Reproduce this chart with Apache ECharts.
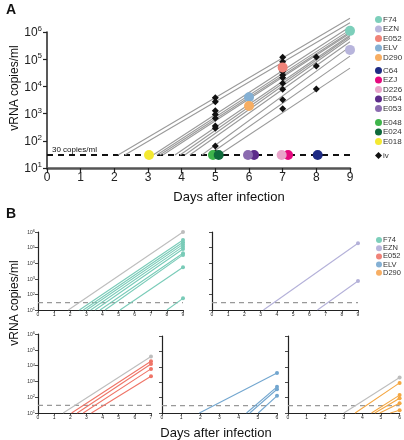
<!DOCTYPE html>
<html><head><meta charset="utf-8">
<script src="https://cdn.jsdelivr.net/npm/echarts@6/dist/echarts.min.js"></script>
<style>html,body{margin:0;padding:0;background:#fff;}#c{width:404px;height:440px;}</style>
</head><body><div id="c"></div>
<script>
// ---------- Panel A data ----------
const daysA = [0,1,2,3,4,5,6,7,8,9];
const threshold = 30;
const aLineStart = [2.11, 2.31, 3.15, 3.26, 3.35, 3.44, 3.80, 3.95, 4.09, 4.24, 4.6, 4.8, 5.1];
const aLineEnd   = [3.2e6, 2.2e6, 1.55e6, 1.2e6, 1.0e6, 9e5, 7.6e5, 6.8e5, 5.9e5, 4.4e5, 2.9e5, 1.3e5, 4.7e4];
const ivDay5 = [3.8e3, 2.75e3, 1.26e3, 9.3e2, 6.8e2, 3.5e2, 2.9e2, 65, 36];
const ivDay7 = [1.17e5, 8.1e4, 5.6e4, 3.5e4, 2.6e4, 2.1e4, 1.3e4, 7.8e3, 3.2e3, 1.5e3];
const ivDay8 = [1.2e5, 5.6e4, 8e3];
const animalNames = ['F74','EZN','E052','ELV','D290','C64','EZJ','D226','E054','E053','E048','E024','E018'];
const animalColors = ['#7dcfbb','#b8b5dc','#f08379','#84b0d4','#f7ae63','#1e2b84','#e6097f','#e9a4ca','#5c2b8a','#8b6bb0','#3fb54b','#0e6a3b','#f4e932'];
const animalDay   = [9, 9, 7, 6, 6, 8.04, 7.16, 6.97, 6.15, 5.97, 4.93, 5.1, 3.03];
const animalValue = [1.1e6, 2.2e5, 5e4, 4e3, 1.9e3, 30, 30, 30, 30, 30, 30, 30, 30];

// ---------- Panel B data ----------
const b1Gray = [1.88, 1e6];
const b1Start = [2.57, 2.81, 3.02, 3.27, 3.54, 3.85, 4.16, 5.09, 8.0];
const b1End   = [3.1e5, 2.2e5, 1.6e5, 1.15e5, 8.1e4, 4.3e4, 3.4e4, 5.5e3, 56];
const b2Start = [3.17, 6.5];
const b2End   = [1.9e5, 7.2e2];
const b3Gray = [1.56, 3.8e4];
const b3Start = [2.08, 2.43, 2.80, 3.31];
const b3End   = [1.9e4, 1.26e4, 6.2e3, 2.1e3];
const b4Start = [1.95, 4.41, 4.58, 5.02];
const b4End   = [4e3, 5e2, 3.5e2, 1.3e2];
const b5Gray = [3.0, 2e3];
const b5Start = [3.61, 4.49, 4.67, 4.93, 5.5];
const b5End   = [9e2, 1.45e2, 9e1, 4.3e1, 15];
const bLegendNames = ['F74','EZN','E052','ELV','D290'];

const FONT = 'Liberation Sans, Arial, sans-serif';
const chart = echarts.init(document.getElementById('c'), null, {renderer:'canvas'});

const grids = [
  {left:47, top:32, width:303, height:136},
  {left:38, top:232, width:145, height:78},
  {left:212, top:232, width:146, height:78},
  {left:38, top:334, width:113, height:79},
  {left:162, top:336, width:115, height:77},
  {left:288, top:336, width:114, height:77}
];
const xMax = [9, 9, 9, 7, 6, 6];

function supFmt(v){ return '{b|10}{s|' + Math.round(Math.log10(v)) + '}'; }

const xAxes = grids.map((g,i)=>({
  gridIndex:i, type:'value', min:0, max:xMax[i], interval:1,
  axisLine:{lineStyle:{color: i===0?'#555':'#222', width: i===0?2.5:1.2}},
  axisTick:{length: i===0?5:2.5, lineStyle:{color:'#222', width: i===0?1.2:0.8}},
  axisLabel:{fontSize: i===0?12:5, color:'#222', margin: i===0?4:2, fontFamily:FONT},
  splitLine:{show:false}
}));
const yAxes = grids.map((g,i)=>({
  gridIndex:i, type:'log', logBase:10, min:10, max:1e6, splitNumber:5,
  axisLine:{show:true, lineStyle:{color:'#222', width: i===0?1.5:1.2}},
  axisTick:{show:true, length: i===0?4:3, lineStyle:{color:'#222', width: i===0?1.2:0.8}},
  minorTick:{show:false},
  axisLabel:{show: i===0 || i===1 || i===3, formatter: supFmt, margin: i===0?5:3, color:'#222',
    rich: i===0 ? {b:{fontSize:12, fontFamily:FONT, color:'#222', lineHeight:14, verticalAlign:'bottom'}, s:{fontSize:8, fontFamily:FONT, color:'#222', verticalAlign:'top', lineHeight:8}}
               : {b:{fontSize:5, fontFamily:FONT, color:'#333', lineHeight:6, verticalAlign:'bottom'}, s:{fontSize:4, fontFamily:FONT, color:'#333', verticalAlign:'top', lineHeight:4}}},
  splitLine:{show:false}
}));

const series = [];
function addLine(gi, pts, color, width, z, dash){
  series.push({type:'line', xAxisIndex:gi, yAxisIndex:gi, data:pts, symbol:'none', showSymbol:false,
    lineStyle:{color:color, width:width, type: dash||'solid'}, clip:false, silent:true, animation:false, z:z||2});
}
function addDots(gi, pts, color, size, name, symbol, z){
  series.push({type:'scatter', name:name, xAxisIndex:gi, yAxisIndex:gi, data:pts, symbol:symbol||'circle',
    symbolSize:size, itemStyle:{color:color, opacity:1}, clip:false, silent:true, animation:false, z:z||3});
}

// Panel A
addLine(0, [[0,threshold],[9,threshold]], '#111', 2, 1, [6,5]);
aLineStart.forEach((s,k)=> addLine(0, [[s,threshold],[9,aLineEnd[k]]], '#9a9a9a', 1.1, 2));
const ivPts = ivDay5.map(v=>[5,v]).concat(ivDay7.map(v=>[7,v])).concat(ivDay8.map(v=>[8,v]));
addDots(0, ivPts, '#111', 7, 'iv', 'diamond', 4);
animalNames.forEach((n,k)=> addDots(0, [[animalDay[k], animalValue[k]]], animalColors[k], 10, n, 'circle', 5));

// Panel B helpers
function bPanel(gi, maxX, startArr, endArr, color, gray){
  addLine(gi, [[0,threshold],[maxX,threshold]], '#999', 1.3, 1, [5,4]);
  if (gray){ addLine(gi, [[gray[0],10],[maxX,gray[1]]], '#bdbdbd', 1.1, 2); addDots(gi, [[maxX,gray[1]]], '#bdbdbd', 4, undefined, 'circle', 3); }
  startArr.forEach((s,k)=>{ addLine(gi, [[s,10],[maxX,endArr[k]]], color, 1.1, 3); });
  addDots(gi, endArr.map(v=>[maxX,v]), color, 4, undefined, 'circle', 4);
}
bPanel(1, 9, b1Start, b1End, '#79cbb8', b1Gray);
bPanel(2, 9, b2Start, b2End, '#b4b1d9', null);
bPanel(3, 7, b3Start, b3End, '#ef7467', b3Gray);
bPanel(4, 6, b4Start, b4End, '#72a6cf', null);
bPanel(5, 6, b5Start, b5End, '#f4a641', b5Gray);

const legBase = {orient:'vertical', icon:'circle', itemWidth:7, itemHeight:7, itemGap:1.5, padding:0, selectedMode:false,
  textStyle:{fontSize:8, color:'#333', fontFamily:FONT, lineHeight:7, padding:[0,0,0,-4]}};
const legends = [
  Object.assign({}, legBase, {left:375, top:15.5, data:animalNames.slice(0,5)}),
  Object.assign({}, legBase, {left:375, top:66.5, data:animalNames.slice(5,10)}),
  Object.assign({}, legBase, {left:375, top:118.5, data:animalNames.slice(10,13)}),
  Object.assign({}, legBase, {left:375, top:151.5, data:[{name:'iv', icon:'diamond'}]}),
  {orient:'vertical', icon:'circle', itemWidth:6, itemHeight:6, itemGap:0.2, padding:0, selectedMode:false, left:376, top:236,
   data:bLegendNames, textStyle:{fontSize:7.5, color:'#333', fontFamily:FONT, lineHeight:6, padding:[0,0,0,-4]}}
];

const graphic = [
  {type:'text', left:6, top:3, style:{text:'A', font:'bold 14px '+FONT, fill:'#111'}},
  {type:'text', left:6, top:207, style:{text:'B', font:'bold 14px '+FONT, fill:'#111'}},
  {type:'text', x:15, y:88, rotation:Math.PI/2, style:{text:'vRNA copies/ml', font:'12px '+FONT, fill:'#111', align:'center', verticalAlign:'middle'}},
  {type:'text', x:229, y:197, style:{text:'Days after infection', font:'13px '+FONT, fill:'#111', align:'center', verticalAlign:'middle'}},
  {type:'text', x:52, y:150, style:{text:'30 copies/ml', font:'8px '+FONT, fill:'#111', align:'left', verticalAlign:'middle'}},
  {type:'text', x:15, y:303, rotation:Math.PI/2, style:{text:'vRNA copies/ml', font:'12px '+FONT, fill:'#111', align:'center', verticalAlign:'middle'}},
  {type:'text', x:216, y:433, style:{text:'Days after infection', font:'13px '+FONT, fill:'#111', align:'center', verticalAlign:'middle'}}
];

chart.setOption({animation:false, grid:grids, xAxis:xAxes, yAxis:yAxes, series:series, legend:legends, graphic:graphic});
</script></body></html>
